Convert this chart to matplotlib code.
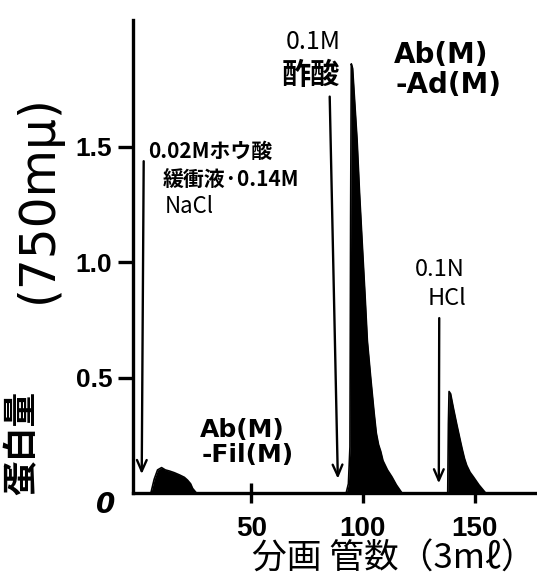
import matplotlib
matplotlib.use("Agg")
import matplotlib.pyplot as plt

JP = ["Noto Sans CJK JP", "DejaVu Sans"]

# elution profile: fraction number vs protein (OD 750 mu)
fraction = [-3, 5.0, 6.5, 8.0, 9.8, 11.5, 13.4, 15.5, 17.9, 20.0, 21.4, 22.8, 23.7, 25.4,
            92.5, 93.5, 94.2, 94.5, 94.8, 95.4, 96.3, 97.4, 98.5, 99.6, 101.0, 102.0,
            103.5, 104.0, 105.0, 106.0, 107.0, 108.0, 109.0, 111.0, 113.0, 115.0, 117.5,
            138.0, 138.3, 138.6, 139.3, 140.5, 142.0, 143.8, 144.5, 145.5, 146.5, 148.0,
            149.5, 152.0, 155.0, 178.0]
protein = [0, 0, 0.06, 0.10, 0.11, 0.10, 0.095, 0.088, 0.078, 0.068, 0.056, 0.04, 0.02, 0,
           0, 0.04, 0.2, 1.2, 1.86, 1.84, 1.7, 1.53, 1.3, 1.10, 0.85, 0.66,
           0.50, 0.45, 0.35, 0.26, 0.21, 0.18, 0.14, 0.10, 0.07, 0.035, 0,
           0, 0.3, 0.44, 0.43, 0.37, 0.30, 0.22, 0.19, 0.15, 0.12, 0.09,
           0.07, 0.035, 0, 0]

# eluent change arrows (start x, start y, end x, end y)
arrow_x0 = [1.8, 85.1, 134.2]
arrow_y0 = [1.45, 1.73, 0.77]
arrow_x1 = [0.9, 88.8, 134.0]
arrow_y1 = [0.07, 0.05, 0.03]

xticks = [50, 100, 150]
yticks = [0.5, 1.0, 1.5]
ytick_labels = ["0.5", "1.0", "1.5"]

fig = plt.figure(figsize=(5.37, 5.84), dpi=100)
ax = fig.add_axes([133 / 537, 91 / 584, 1 - 133 / 537, 473 / 584])

ax.fill_between(fraction, protein, 0, color="black", lw=0)
ax.plot(fraction, protein, color="black", lw=1.2)

for x0, y0, x1, y1 in zip(arrow_x0, arrow_y0, arrow_x1, arrow_y1):
    ax.annotate("", xy=(x1, y1), xytext=(x0, y0),
                arrowprops=dict(arrowstyle="->,head_length=0.8,head_width=0.35",
                                color="black", lw=1.7))

ax.set_xlim(-3, 178)
ax.set_ylim(0, 2.05)
for s in ["top", "right"]:
    ax.spines[s].set_visible(False)
for s in ["left", "bottom"]:
    ax.spines[s].set_linewidth(2.4)

ax.set_xticks(xticks)
ax.set_xticklabels([str(t) for t in xticks], fontsize=20, fontweight="bold",
                   family="Liberation Sans")
ax.set_yticks(yticks)
ax.set_yticklabels(ytick_labels, fontsize=19, fontweight="bold", family="Liberation Sans")
ax.tick_params(axis="x", direction="inout", length=15, width=2.4, pad=9)
ax.tick_params(axis="y", direction="out", length=11, width=2.4, pad=4)

ax.text(-15.2, -0.052, "0", fontsize=20, fontweight="bold", fontstyle="italic",
        ha="center", va="center", clip_on=False)

# annotations
ax.text(3.6, 1.48, "0.02Mホウ酸", family=JP, fontsize=15, fontweight="bold",
        ha="left", va="center")
ax.text(10.3, 1.36, "緩衝液·0.14M", family=JP, fontsize=15, fontweight="bold",
        ha="left", va="center")
ax.text(11.2, 1.24, "NaCl", family=JP, fontsize=16, ha="left", va="center")

ax.text(77.7, 1.955, "0.1M", family=JP, fontsize=18, ha="center", va="center")
ax.text(76.8, 1.81, "酢酸", family=JP, fontsize=21, fontweight="bold",
        ha="center", va="center")

ax.text(113.8, 1.90, "Ab(M)", fontsize=20, fontweight="bold", ha="left", va="center")
ax.text(114.7, 1.77, "-Ad(M)", fontsize=20, fontweight="bold", ha="left", va="center")

ax.text(134.4, 0.97, "0.1N", family=JP, fontsize=17, ha="center", va="center")
ax.text(137.5, 0.845, "HCl", family=JP, fontsize=17, ha="center", va="center")

ax.text(26.8, 0.273, "Ab(M)", fontsize=18, fontweight="bold", ha="left", va="center")
ax.text(27.7, 0.165, "-Fil(M)", fontsize=18, fontweight="bold", ha="left", va="center")

# axis titles
fig.text(38 / 537, 1 - 199 / 584, "(750mμ)", fontsize=35, rotation=90,
         ha="center", va="center")
fig.text(22 / 537, 1 - 443 / 584, "蛋白量", family=JP, fontsize=25, fontweight="bold",
         rotation=90, ha="center", va="center")
fig.text(394 / 537, 1 - 559 / 584, "分画 管数（3mℓ）", family=JP, fontsize=25,
         ha="center", va="center")

fig.savefig("out.png", dpi=100)
